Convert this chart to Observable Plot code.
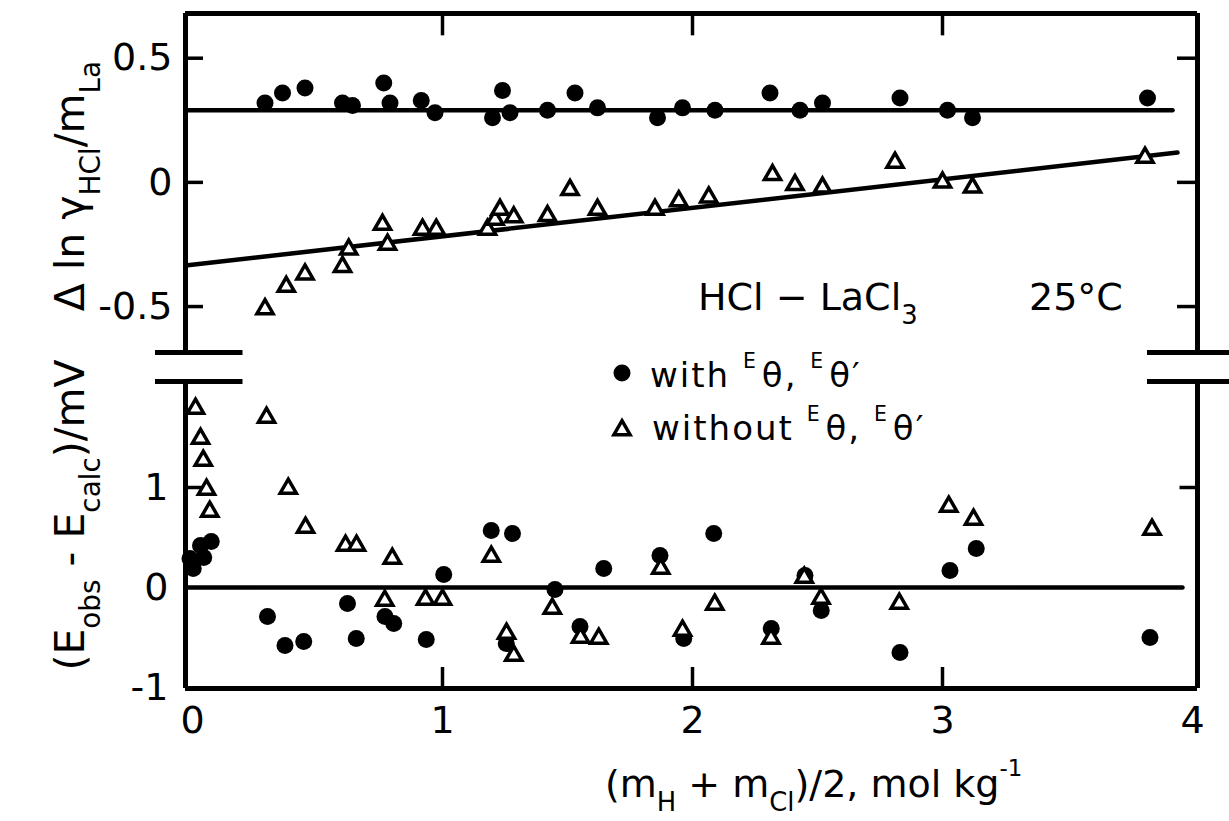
<!DOCTYPE html>
<html><head><meta charset="utf-8">
<script src="https://cdn.jsdelivr.net/npm/d3@7"></script>
<script src="https://cdn.jsdelivr.net/npm/@observablehq/plot@0.6"></script>
<style>
html,body{margin:0;padding:0;background:#fff;}
#chart{position:relative;width:1229px;height:821px;overflow:hidden;background:#fff;}
#chart svg{position:absolute;left:0;top:0;}
</style></head><body><div id="chart"></div>
<script>
// ---------- data ----------
// upper panel: Δ ln γHCl / mLa
const topCircleX = [0.29,0.36,0.45,0.60,0.64,0.765,0.79,0.915,0.97,1.20,1.24,1.27,1.42,1.53,1.62,1.86,1.96,2.09,2.31,2.43,2.52,2.83,3.02,3.12,3.82];
const topCircleY = [0.32,0.36,0.38,0.32,0.31,0.40,0.32,0.33,0.28,0.26,0.37,0.28,0.29,0.36,0.30,0.26,0.30,0.29,0.36,0.29,0.32,0.34,0.29,0.26,0.34];
const topTriX = [0.29,0.375,0.45,0.60,0.625,0.76,0.78,0.92,0.975,1.18,1.21,1.23,1.285,1.42,1.51,1.62,1.85,1.945,2.065,2.32,2.41,2.52,2.81,3.00,3.12,3.81];
const topTriY = [-0.51,-0.42,-0.37,-0.34,-0.27,-0.17,-0.25,-0.19,-0.19,-0.19,-0.15,-0.11,-0.14,-0.135,-0.03,-0.11,-0.11,-0.075,-0.06,0.03,-0.01,-0.02,0.08,0.00,-0.02,0.10];
const topFitCircleX = [-0.028, 3.92];
const topFitCircleY = [0.29, 0.29];
const topFitTriX = [-0.028, 3.94];
const topFitTriY = [-0.335, 0.12];
// lower panel: (Eobs - Ecalc)/mV
const botCircleX = [-0.01,0.003,0.032,0.045,0.075,0.30,0.37,0.445,0.62,0.655,0.77,0.805,0.935,1.005,1.195,1.28,1.255,1.45,1.55,1.645,1.87,1.965,2.085,2.315,2.45,2.515,2.83,3.03,3.135,3.83];
const botCircleY = [0.29,0.19,0.42,0.30,0.46,-0.29,-0.58,-0.54,-0.16,-0.51,-0.29,-0.36,-0.52,0.13,0.57,0.54,-0.56,-0.02,-0.39,0.19,0.32,-0.51,0.54,-0.41,0.12,-0.23,-0.65,0.17,0.39,-0.50];
const botTriX = [0.012,0.032,0.043,0.056,0.069,0.296,0.383,0.452,0.612,0.656,0.799,0.769,0.932,1.00,1.195,1.256,1.285,1.439,1.552,1.625,1.873,1.96,2.089,2.314,2.447,2.514,2.827,3.025,3.124,3.838];
const botTriY = [1.79,1.49,1.27,0.98,0.76,1.70,0.99,0.60,0.42,0.42,0.29,-0.13,-0.12,-0.12,0.31,-0.46,-0.68,-0.21,-0.50,-0.51,0.19,-0.43,-0.17,-0.51,0.10,-0.11,-0.16,0.81,0.68,0.58];
const botFitX = [-0.028, 3.96];
const botFitY = [0, 0];
// ticks
const xTicks = [0,1,2,3,4];
const xTickLabels = ["0","1","2","3","4"];
const xInnerTicks = [1,2,3];
const topYTicks = [0.5,0,-0.5];
const topYTickLabels = ["0.5","0","-0.5"];
const botYTicks = [1,0,-1];
const botYTickLabels = ["1","0","-1"];
const botInnerYTicks = [1];

// ---------- layout ----------
const W = 1229, H = 821;
const FONT = "'DejaVu Sans', sans-serif";
const xDomain = [-0.028, 4.02];
const topDomain = [-0.685, 0.68];
const botDomain = [-1.01, 2.06];
const LW = 4.5, FW = 5;
const pts = (xs, ys) => xs.map((x, i) => ({x, y: ys[i]}));

const common = {
  width: W, height: H, marginLeft: 185, marginRight: 32,
  x: {domain: xDomain},
  style: {fontFamily: FONT, background: "transparent", color: "black", overflow: "visible"}
};
const circleOpts = {x: "x", y: "y", r: 8.5, fill: "black"};
const triOpts = {x: "x", y: "y", r: 6, symbol: "triangle", fill: "white", stroke: "black", strokeWidth: 3.5};

const topPlot = Plot.plot({
  ...common,
  marginTop: 13, marginBottom: H - 352,
  x: {domain: xDomain, axis: null},
  y: {domain: topDomain},
  marks: [
    // frame (open at the bottom, broken axis)
    Plot.ruleY([topDomain[1]], {x1: xDomain[0], x2: xDomain[1], strokeWidth: FW}),
    Plot.ruleX([xDomain[0], xDomain[1]], {y1: topDomain[0], y2: topDomain[1], strokeWidth: FW}),
    Plot.ruleY([topDomain[0]], {x1: xDomain[0] - 0.12, x2: xDomain[0] + 0.23, strokeWidth: FW}),
    Plot.ruleY([topDomain[0]], {x1: xDomain[1] - 0.2, x2: xDomain[1] + 0.13, strokeWidth: FW}),
    // inner ticks
    Plot.ruleY(topYTicks, {x1: xDomain[0], x2: xDomain[0] + 0.072, strokeWidth: 3.5}),
    Plot.ruleY(topYTicks, {x1: xDomain[1] - 0.08, x2: xDomain[1], strokeWidth: 3.5}),
    Plot.ruleX(xInnerTicks, {y1: topDomain[1], y2: topDomain[1] - 0.09, strokeWidth: 3.5}),
    Plot.axisY({ticks: topYTicks, tickFormat: d => topYTickLabels[topYTicks.indexOf(d)], tickSize: 0, tickPadding: 13, fontSize: 38, label: null}),
    // fits
    Plot.line(pts(topFitCircleX, topFitCircleY), {x: "x", y: "y", strokeWidth: LW}),
    Plot.line(pts(topFitTriX, topFitTriY), {x: "x", y: "y", strokeWidth: LW}),
    // points
    Plot.dot(pts(topCircleX, topCircleY), circleOpts),
    Plot.dot(pts(topTriX, topTriY), triOpts)
  ]
});

const botPlot = Plot.plot({
  ...common,
  marginTop: 381, marginBottom: H - 688,
  y: {domain: botDomain},
  marks: [
    Plot.ruleY([botDomain[0]], {x1: xDomain[0], x2: xDomain[1], strokeWidth: FW}),
    Plot.ruleX([xDomain[0], xDomain[1]], {y1: botDomain[0], y2: botDomain[1], strokeWidth: FW}),
    Plot.ruleY([botDomain[1]], {x1: xDomain[0] - 0.12, x2: xDomain[0] + 0.23, strokeWidth: FW}),
    Plot.ruleY([botDomain[1]], {x1: xDomain[1] - 0.2, x2: xDomain[1] + 0.13, strokeWidth: FW}),
    Plot.ruleY(botInnerYTicks, {x1: xDomain[0], x2: xDomain[0] + 0.065, strokeWidth: 3.5}),
    Plot.ruleY(botInnerYTicks, {x1: xDomain[1] - 0.07, x2: xDomain[1], strokeWidth: 3.5}),
    Plot.ruleX(xInnerTicks, {y1: botDomain[0], y2: botDomain[0] + 0.21, strokeWidth: 3.5}),
    Plot.axisY({ticks: botYTicks, tickFormat: d => botYTickLabels[botYTicks.indexOf(d)], tickSize: 0, tickPadding: 17, fontSize: 38, label: null}),
    Plot.axisX({ticks: xTicks, tickFormat: d => xTickLabels[xTicks.indexOf(d)], tickSize: 0, tickPadding: 18, fontSize: 38, label: null}),
    Plot.line(pts(botFitX, botFitY), {x: "x", y: "y", strokeWidth: LW}),
    Plot.dot(pts(botCircleX, botCircleY), circleOpts),
    Plot.dot(pts(botTriX, botTriY), triOpts)
  ]
});

const chart = document.getElementById("chart");
chart.appendChild(topPlot);
chart.appendChild(botPlot);

// ---------- text overlay (titles, annotation, legend) ----------
const ov = d3.create("svg").attr("width", W).attr("height", H)
  .style("font-family", FONT).style("overflow", "visible");

function rich(x, y, parts, {size = 38, rotate = 0, anchor = "start", spacing = 0} = {}) {
  const t = ov.append("text")
    .attr("transform", `translate(${x},${y}) rotate(${rotate})`)
    .attr("font-size", size).attr("text-anchor", anchor)
    .attr("letter-spacing", spacing).attr("fill", "black");
  let shift = 0;
  for (const p of parts) {
    const s = t.append("tspan").text(p.t);
    let target = 0, fs = size;
    if (p.sub) { target = size * 0.38; fs = size * 0.68; }
    if (p.sup) { target = -size * 0.55; fs = size * 0.6; }
    if (p.dx) s.attr("dx", p.dx);
    s.attr("font-size", fs).attr("dy", target - shift);
    shift = target;
  }
  return t;
}

// y-axis titles
rich(84, 186, [{t: "Δ ln γ"}, {t: "HCl", sub: true}, {t: "/m"}, {t: "La", sub: true}], {size: 41, rotate: -90, anchor: "middle"});
rich(84, 515, [{t: "(E"}, {t: "obs", sub: true}, {t: " - E"}, {t: "calc", sub: true}, {t: ")/mV"}], {size: 41, rotate: -90, anchor: "middle"});
// x-axis title
rich(605, 797, [{t: "(m"}, {t: "H", sub: true}, {t: " + m"}, {t: "Cl", sub: true}, {t: ")/2, mol kg"}, {t: "-1", sup: true}], {size: 38});

// annotation
rich(698, 310, [{t: "HCl − LaCl"}, {t: "3", sub: true}], {size: 38});
rich(1029, 310, [{t: "25°C"}], {size: 38});

// legend
ov.append("circle").attr("cx", 622).attr("cy", 373).attr("r", 8.5).attr("fill", "black");
ov.append("path").attr("d", d3.symbol(d3.symbolTriangle, 6 * 6 * Math.PI)())
  .attr("transform", "translate(622,430)").attr("fill", "white").attr("stroke", "black").attr("stroke-width", 3.5);
rich(650, 387, [{t: "with "}, {t: "E", sup: true}, {t: "θ, ", dx: 4}, {t: "E", sup: true}, {t: "θ′", dx: 4}], {size: 34, spacing: 2});
rich(652, 440, [{t: "without "}, {t: "E", sup: true}, {t: "θ, ", dx: 4}, {t: "E", sup: true}, {t: "θ′", dx: 4}], {size: 34, spacing: 2});

chart.appendChild(ov.node());
</script></body></html>
